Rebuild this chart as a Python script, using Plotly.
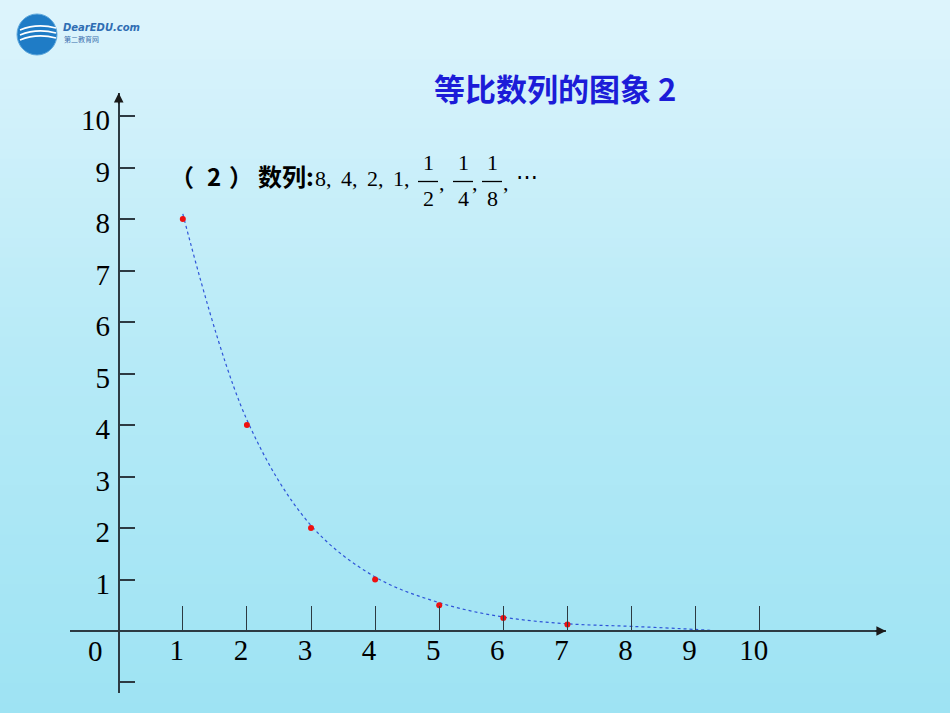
import plotly.graph_objects as go

# ---------------- data ----------------
n_values = [1, 2, 3, 4, 5, 6, 7]
a_values = [8, 4, 2, 1, 0.5, 0.25, 0.125]

# dotted trend curve as drawn on the slide
curve_x = [1, 2, 3, 4, 5, 6, 7, 8, 9, 9.38]
curve_y = [8.1, 4.1, 2.05, 1.05, 0.55, 0.27, 0.14, 0.09, 0.03, 0.0]

x_tick_vals = [1, 2, 3, 4, 5, 6, 7, 8, 9, 10]
x_tick_text = ["1", "2", "3", "4", "5", "6", "7", "8", "9", "10"]
y_tick_vals = [-1, 1, 2, 3, 4, 5, 6, 7, 8, 9, 10]
y_tick_text = ["", "1", "2", "3", "4", "5", "6", "7", "8", "9", "10"]

title_text = "等比数列的图象 2"
seq_label_parts = ["（", "2", "）", "数列:"]
seq_terms = ["8,", "4,", "2,", "1,"]
frac_dens = ["2", "4", "8"]

# ---------------- layout geometry ----------------
W, H = 950, 713
L, R, T, B = 70, 64, 93, 20
PW, PH = W - L - R, H - T - B
X_RANGE = [-0.76, 11.97]
Y_RANGE = [-1.204, 10.447]


def px(x):
    return (x - L) / PW


def py(y):
    return (H - B - y) / PH


fig = go.Figure()

fig.add_trace(go.Scatter(
    x=curve_x, y=curve_y, mode="lines",
    line=dict(color="#2f55d8", width=1.2, dash="dot", shape="spline"),
    hoverinfo="skip", showlegend=False))

fig.add_trace(go.Scatter(
    x=n_values, y=a_values, mode="markers",
    marker=dict(color="#ee1111", size=6),
    showlegend=False))

# ---------------- background gradient ----------------
shapes = []
top = (221, 244, 252)
mid = (182, 234, 247)
bot = (158, 227, 243)
nb = 72
for i in range(nb):
    f = i / (nb - 1)
    if f < 0.5:
        g = f / 0.5
        c = [round(top[k] + (mid[k] - top[k]) * g) for k in range(3)]
    else:
        g = (f - 0.5) / 0.5
        c = [round(mid[k] + (bot[k] - mid[k]) * g) for k in range(3)]
    y0 = H * i / nb
    y1 = H * (i + 1) / nb + 1
    shapes.append(dict(type="rect", xref="paper", yref="paper",
                       x0=px(0), x1=px(W), y0=py(y1), y1=py(y0),
                       fillcolor="rgb(%d,%d,%d)" % tuple(c), line_width=0,
                       layer="below"))

# logo globe
shapes.append(dict(type="circle", xref="paper", yref="paper",
                   x0=px(17), x1=px(57), y0=py(55), y1=py(14),
                   fillcolor="#1f7cc6", line=dict(color="#5fa8dc", width=1), layer="above"))
for dy in (-5, 0, 5):
    shapes.append(dict(type="path", xref="paper", yref="paper",
                       path="M %f,%f Q %f,%f %f,%f" % (px(20), py(35 + dy), px(37), py(28 + dy),
                                                        px(56), py(33 + dy)),
                       line=dict(color="white", width=1.6), layer="above"))

# fraction bars
frac_bars = [(418, 438), (453, 473), (482, 502)]
for xa, xb in frac_bars:
    shapes.append(dict(type="line", xref="paper", yref="paper",
                       x0=px(xa), x1=px(xb), y0=py(181.5), y1=py(181.5),
                       line=dict(color="black", width=1.3)))

annotations = []


def note(xp, yp, text, font, xanchor="center"):
    annotations.append(dict(xref="paper", yref="paper", x=px(xp), y=py(yp),
                            xanchor=xanchor, yanchor="middle",
                            text=text, showarrow=False, font=font))


serif = "Liberation Serif"
cjk_bold = dict(family="Noto Sans CJK SC", size=24, color="black")
# title
note(555, 87, "<b>" + title_text + "</b>",
     dict(family="Noto Sans CJK SC", size=31, color="#1c1cd8"))
# logo text
note(61, 28, "<b><i>DearEDU.com</i></b>",
     dict(family="DejaVu Sans", size=10, color="#2f6db3"), "left")
note(62, 39, "第二教育网", dict(family="Noto Sans CJK SC", size=7, color="#3b6fae"), "left")
# sequence label
for xp, t in zip([168, 205, 227, 256], seq_label_parts):
    note(xp, 175, "<b>" + t + "</b>", cjk_bold, "left")
for i, t in enumerate(seq_terms):
    note(313 + 26 * i, 178, t, dict(family=serif, size=22, color="black"), "left")
frac_cx = [428, 463, 492]
for cx, d in zip(frac_cx, frac_dens):
    note(cx, 162, "1", dict(family=serif, size=22, color="black"))
    note(cx, 198, d, dict(family=serif, size=22, color="black"))
for cx in (442, 475, 506):
    note(cx, 182, ",", dict(family=serif, size=22, color="black"))
note(514, 176, "⋯", dict(family="DejaVu Serif", size=22, color="black"), "left")

# origin label
annotations.append(dict(x=0, y=0, xref="x", yref="y", text="0", showarrow=False,
                        xshift=-23, yshift=-20,
                        font=dict(family=serif, size=29, color="black")))
# axis arrows
annotations.append(dict(x=0, y=Y_RANGE[1], xref="x", yref="y", ax=0, ay=12,
                        axref="pixel", ayref="pixel", text="", showarrow=True,
                        arrowhead=2, arrowsize=1.2, arrowwidth=1.6, arrowcolor="#1a1a1a"))
annotations.append(dict(x=X_RANGE[1], y=0, xref="x", yref="y", ax=-12, ay=0,
                        axref="pixel", ayref="pixel", text="", showarrow=True,
                        arrowhead=2, arrowsize=1.2, arrowwidth=1.6, arrowcolor="#1a1a1a"))

axis_font = dict(family=serif, size=29, color="black")
fig.update_layout(
    width=W, height=H,
    margin=dict(l=L, r=R, t=T, b=B),
    paper_bgcolor="#b6eaf7", plot_bgcolor="rgba(0,0,0,0)",
    shapes=shapes, annotations=annotations, showlegend=False,
    xaxis=dict(range=X_RANGE, anchor="free", position=py(631),
               showgrid=False, zeroline=False, showline=True,
               linecolor="#2d3a42", linewidth=1.8,
               ticks="inside", ticklen=24, tickwidth=1.3, tickcolor="#2d3a42",
               tickvals=x_tick_vals, ticktext=x_tick_text,
               tickfont=axis_font, ticklabelshift=-6, ticklabelstandoff=-7),
    yaxis=dict(range=Y_RANGE, anchor="free", position=px(118.7),
               showgrid=False, zeroline=False, showline=True,
               linecolor="#2d3a42", linewidth=1.8,
               ticks="inside", ticklen=15, tickwidth=1.5, tickcolor="#2d3a42",
               tickvals=y_tick_vals, ticktext=y_tick_text,
               tickfont=axis_font, ticklabelshift=4, ticklabelstandoff=2),
)

fig.write_html("out.html", config={"displayModeBar": False},
               post_script="document.body.style.margin='0';document.body.style.overflow='hidden';")
